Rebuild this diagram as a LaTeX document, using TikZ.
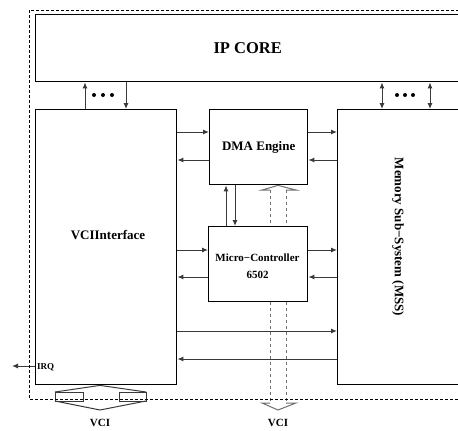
\documentclass[tikz,border=0pt]{standalone}
\usepackage{fontspec}
\setmainfont{Liberation Serif}
\usetikzlibrary{arrows.meta}
\definecolor{wiregray}{HTML}{3A3A3A}
\definecolor{ghostgray}{HTML}{707070}

\begin{document}
\begin{tikzpicture}[
  x=1pt, y=-1pt,
  every node/.style={text=black, inner sep=0pt},
  block/.style={
    draw=black,
    line width=1.4pt,
    fill=white,
    anchor=north west,
    inner sep=0pt,
  },
  bigtext/.style={font=\fontsize{13}{15}\selectfont\bfseries},
  smalltext/.style={font=\fontsize{11}{17}\selectfont\bfseries, align=center},
  link/.style={
    -{Latex[length=6pt, width=5pt]},
    line width=1pt,
    draw=wiregray,
  },
  twoway/.style={
    {Latex[length=6pt, width=5pt]}-{Latex[length=6pt, width=5pt]},
    line width=1pt,
    draw=wiregray,
  },
  ghost/.style={draw=ghostgray, line width=1pt},
  frame/.style={draw=black, line width=0.8pt, dash pattern=on 3pt off 2pt},
]
  \clip (0,0) rectangle (458,431);

  % blocks
  \node[block, minimum width=424pt, minimum height=67pt] (ipcore) at (35,14) {};
  \node[font=\fontsize{16.5}{18}\selectfont\bfseries] (iptext) at (ipcore.center) {IP CORE};
  \node[block, minimum width=141pt, minimum height=275pt] (vci) at (35,109) {};
  \node[bigtext] (vcitext) at (108,235) {VCIInterface};
  \node[block, minimum width=98pt, minimum height=75pt, bigtext] (dma) at (209,109) {};
  \node[bigtext] (dmatext) at (dma.center) {DMA Engine};
  \node[block, minimum width=99pt, minimum height=75pt] (mc) at (208,226) {};
  \node[smalltext] (mctext) at (257.5,266) {Micro−Controller\\6502};
  \node[block, minimum width=122pt, minimum height=275pt] (mss) at (337,109) {};
  \node[bigtext, rotate=-90] (msstext) at (398,237) {Memory Sub−System (MSS)};

  % IP core ports
  \draw[link] (vci.north -| 85,0) -- (ipcore.south -| 85,0);
  \draw[link] (ipcore.south -| 126,0) -- (vci.north -| 126,0);
  \draw[twoway] (ipcore.south -| 382,0) -- (mss.north -| 382,0);
  \draw[twoway] (ipcore.south -| 430,0) -- (mss.north -| 430,0);
  \foreach \x in {94,103,112,397,405,413}
    \fill (\x,95) circle (2pt);

  % DMA links
  \draw[link] (vci.east |- 0,132) -- (dma.west |- 0,132);
  \draw[link] (dma.west |- 0,160) -- (vci.east |- 0,160);
  \draw[link] (dma.east |- 0,132) -- (mss.west |- 0,132);
  \draw[link] (mss.west |- 0,160) -- (dma.east |- 0,160);
  \draw[link] (mc.north -| 226,0) -- (dma.south -| 226,0);
  \draw[link] (dma.south -| 235,0) -- (mc.north -| 235,0);

  % micro-controller links
  \draw[link] (vci.east |- 0,250) -- (mc.west |- 0,250);
  \draw[link] (mc.west |- 0,277) -- (vci.east |- 0,277);
  \draw[link] (mc.east |- 0,250) -- (mss.west |- 0,250);
  \draw[link] (mss.west |- 0,277) -- (mc.east |- 0,277);

  % direct links
  \draw[link] (vci.east |- 0,331) -- (mss.west |- 0,331);
  \draw[link] (mss.west |- 0,359) -- (vci.east |- 0,359);

  % IRQ
  \coordinate (irqend) at (12,366);
  \draw[link] (vci.west |- irqend) -- (irqend);
  \node[font=\fontsize{9}{10}\selectfont\bfseries, anchor=west] (irq) at (37,367) {IRQ};

  % dashed VCI bus through the controller
  \draw[ghost] (270,190) -- (262,190) -- (dma.south -| 278,0) -- (296,190) -- (286,190);
  \draw[ghost, dashed] (270,190) -- (mc.north -| 270,0);
  \draw[ghost, dashed] (286,190) -- (mc.north -| 286,0);
  \draw[ghost, dashed] (mc.south -| 270,0) -- (270,403);
  \draw[ghost, dashed] (mc.south -| 286,0) -- (286,403);
  \draw[ghost] (270,403) -- (262,403) -- (278,410) -- (296,403) -- (286,403);
  \node[font=\fontsize{11}{12}\selectfont\bfseries] (vcibus) at (278,423) {VCI};

  % VCI bus of the interface
  \draw[draw=wiregray, line width=1pt] (55,392) -- (vci.south -| 100,0) -- (146,392);
  \draw[draw=wiregray, line width=1pt] (55,392) rectangle (83,401);
  \draw[draw=wiregray, line width=1pt] (119,392) rectangle (146,401);
  \draw[draw=wiregray, line width=1pt] (55,401) -- (100,410) -- (146,401);
  \node[font=\fontsize{11}{12}\selectfont\bfseries] (vciport) at (100,423) {VCI};

  % chip boundary
  \draw[frame] (29,10) rectangle (470,399);
\end{tikzpicture}
\end{document}
